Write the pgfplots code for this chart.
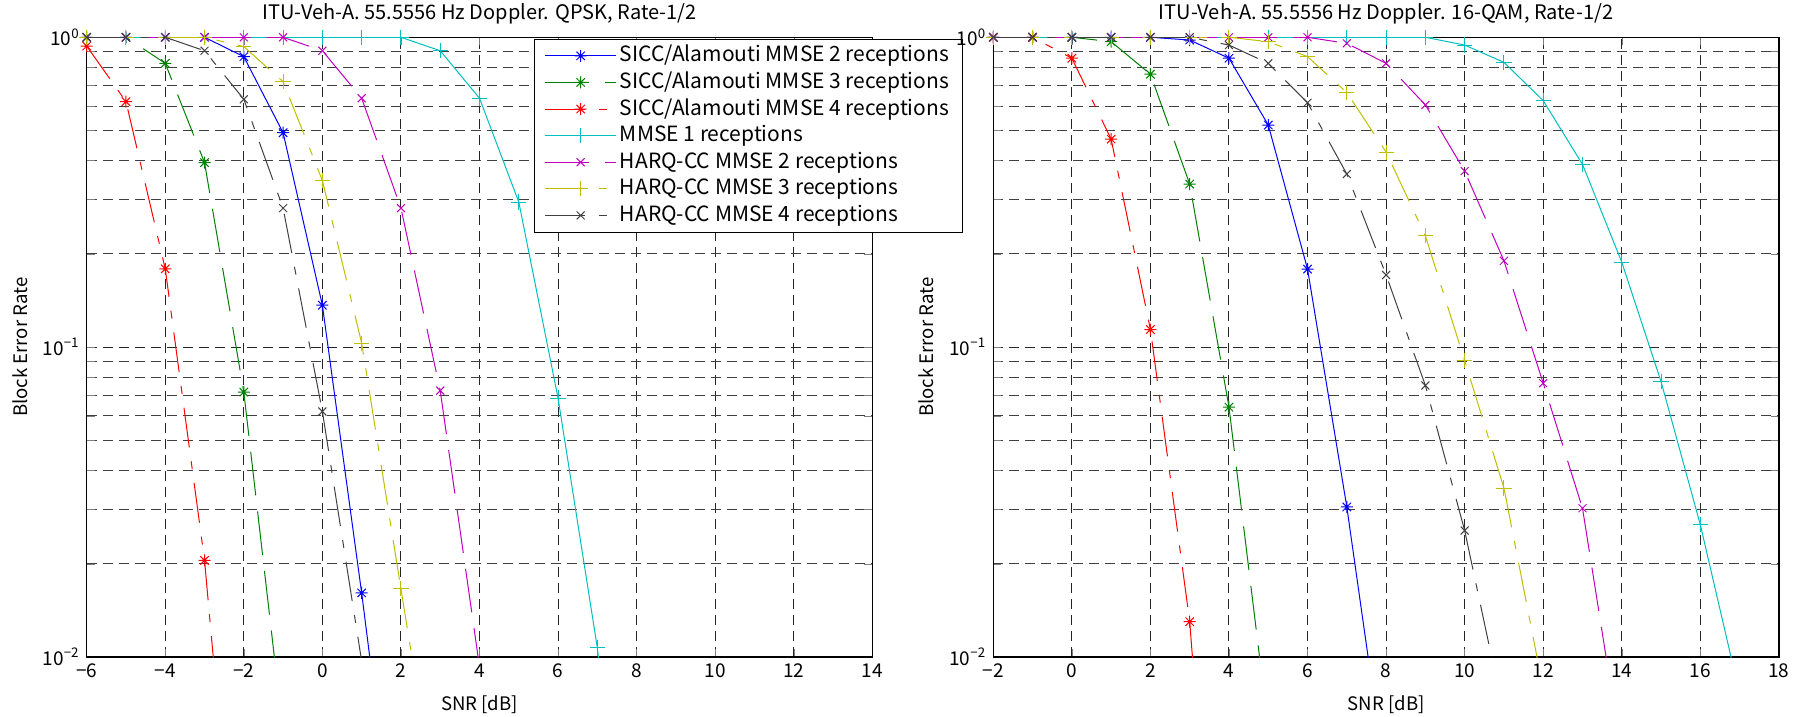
\documentclass[border=0pt]{standalone}
\usepackage{pgfplots}
\pgfplotsset{compat=1.18}
\usepackage{fontspec}
\setmainfont{Noto Sans CJK JP}
\definecolor{mblue}{rgb}{0,0,1}
\definecolor{mgreen}{rgb}{0,0.5,0}
\definecolor{mred}{rgb}{1,0,0}
\definecolor{mcyan}{rgb}{0,0.75,0.75}
\definecolor{mmag}{rgb}{0.75,0,0.75}
\definecolor{myel}{rgb}{0.75,0.75,0}
\definecolor{mgray}{rgb}{0.25,0.25,0.25}
\pgfdeclareplotmark{mstar}{%
  \pgfpathmoveto{\pgfqpoint{-\pgfplotmarksize}{0pt}}\pgfpathlineto{\pgfqpoint{\pgfplotmarksize}{0pt}}%
  \pgfpathmoveto{\pgfqpoint{0pt}{-\pgfplotmarksize}}\pgfpathlineto{\pgfqpoint{0pt}{\pgfplotmarksize}}%
  \pgfpathmoveto{\pgfqpoint{-0.7\pgfplotmarksize}{-0.7\pgfplotmarksize}}\pgfpathlineto{\pgfqpoint{0.7\pgfplotmarksize}{0.7\pgfplotmarksize}}%
  \pgfpathmoveto{\pgfqpoint{-0.7\pgfplotmarksize}{0.7\pgfplotmarksize}}\pgfpathlineto{\pgfqpoint{0.7\pgfplotmarksize}{-0.7\pgfplotmarksize}}%
  \pgfusepathqstroke}
\tikzset{
  mdash/.style={dash pattern=on 22pt off 8pt},
  mdashdot/.style={dash pattern=on 20pt off 7pt on 4pt off 7pt},
  sA/.style={mblue, solid, mark=mstar, mark size=3pt, mark options={solid}},
  sB/.style={mgreen, mdash, mark=mstar, mark size=3pt, mark options={solid}},
  sC/.style={mred, mdashdot, mark=mstar, mark size=3pt, mark options={solid}},
  sD/.style={mcyan, solid, mark=+, mark size=3.8pt, mark options={solid}},
  sE/.style={mmag, mdash, mark=x, mark size=2.8pt, mark options={solid}},
  sF/.style={myel, mdashdot, mark=+, mark size=3.8pt, mark options={solid}},
  sG/.style={mgray, mdashdot, mark=x, mark size=2.8pt, mark options={solid}},
}
\pgfplotsset{
  legend image code/.code={\draw[mark repeat=2,mark phase=2,#1] plot coordinates {(0pt,0pt) (17.75pt,0pt) (35.5pt,0pt)};},
  scale only axis, width=392.8pt, height=309.85pt,
  grid=both,
  major grid style={black!85, line width=0.5pt, dash pattern=on 5pt off 3pt},
  minor grid style={black!75, line width=0.5pt, dash pattern=on 5pt off 3pt},
  tick align=inside, major tick length=4pt, minor tick length=4pt,
  axis line style={line width=0.75pt},
  tick label style={font=\fontsize{9.5}{10}\selectfont},
  every axis label/.append style={font=\fontsize{9.3}{10}\selectfont},
  title style={font=\fontsize{10}{11}\selectfont, at={(axis description cs:0.5,1)}, anchor=center, yshift=5.6pt},
  xlabel={SNR [dB]}, ylabel={Block Error Rate},
  xlabel style={at={(axis description cs:0.5,0)}, anchor=center, yshift=-24pt},
  ylabel style={at={(axis description cs:-0.085,0.5)}, anchor=center},
  every axis plot/.append style={line width=0.5pt},
  clip mode=individual,
}
\newcommand{\yopts}{}
\begin{document}
\begin{tikzpicture}
\useasboundingbox (-43.35pt,-30pt) rectangle (856.65pt,328.5pt);
\begin{axis}[at={(0pt,0pt)}, anchor=south west,
  ymode=log, ymin=0.01, ymax=1,
  ytick={0.01,0.1,1},
  yticklabels={10\textsuperscript{−2},10\textsuperscript{−1},10\textsuperscript{0}},
  minor ytick={0.02,0.03,0.04,0.05,0.06,0.07,0.08,0.09,0.2,0.3,0.4,0.5,0.6,0.7,0.8,0.9},
  xmin=-6, xmax=14, xtick={-6,-4,...,14},
  xticklabels={−6,−4,−2,0,2,4,6,8,10,12,14},
  title={ITU-Veh-A. 55.5556 Hz Doppler. QPSK, Rate-1/2},
  legend style={at={(1.1154,0.998)}, anchor=north east, draw=black, line width=0.6pt,
    font=\fontsize{10.5}{11}\selectfont, inner xsep=5pt, inner ysep=1.7pt,
    nodes={text height=8pt, text depth=2pt, inner sep=1.65pt},
    cells={anchor=west}, fill=white}]
\addplot[sA] coordinates {(-6,1)(-5,1)(-4,1)(-3,1)(-2,0.866)(-1,0.492)(0,0.1366)(1,0.0161)};
\addlegendentry{SICC/Alamouti MMSE 2 receptions}
\addplot[sB] coordinates {(-6,1)(-5,1)(-4,0.824)(-3,0.394)(-2,0.0716)};
\addlegendentry{SICC/Alamouti MMSE 3 receptions}
\addplot[sC] coordinates {(-6,0.937)(-5,0.62)(-4,0.179)(-3,0.0205)};
\addlegendentry{SICC/Alamouti MMSE 4 receptions}
\addplot[sD] coordinates {(-6,1)(-5,1)(-4,1)(-3,1)(-2,1)(-1,1)(0,1)(1,1)(2,1)(3,0.905)(4,0.636)(5,0.294)(6,0.0685)(7,0.0107)};
\addlegendentry{MMSE 1 receptions}
\addplot[sE] coordinates {(-6,1)(-5,1)(-4,1)(-3,1)(-2,1)(-1,1)(0,0.905)(1,0.636)(2,0.281)(3,0.0724)};
\addlegendentry{HARQ-CC MMSE 2 receptions}
\addplot[sF] coordinates {(-6,1)(-5,1)(-4,1)(-3,1)(-2,0.933)(-1,0.719)(0,0.345)(1,0.103)(2,0.0166)};
\addlegendentry{HARQ-CC MMSE 3 receptions}
\addplot[sG] coordinates {(-6,1)(-5,1)(-4,1)(-3,0.905)(-2,0.631)(-1,0.281)(0,0.062)};
\addlegendentry{HARQ-CC MMSE 4 receptions}
\addplot[sA,no marks,forget plot] coordinates {(1,0.0161)(2,0.0016)};
\addplot[sB,no marks,forget plot] coordinates {(-2,0.0716)(-1,0.0057)};
\addplot[sC,no marks,forget plot] coordinates {(-3,0.0205)(-2,0.0008)};
\addplot[sD,no marks,forget plot] coordinates {(7,0.0107)(8,0.0007)};
\addplot[sE,no marks,forget plot] coordinates {(3,0.0724)(4,0.0093)};
\addplot[sF,no marks,forget plot] coordinates {(2,0.0166)(3,0.0027)};
\addplot[sG,no marks,forget plot] coordinates {(0,0.062)(1,0.0097)};
\end{axis}
\begin{axis}[at={(453.3pt,0pt)}, anchor=south west,
  ymode=log, ymin=0.01, ymax=1,
  ytick={0.01,0.1,1},
  yticklabels={10\textsuperscript{−2},10\textsuperscript{−1},10\textsuperscript{0}},
  minor ytick={0.02,0.03,0.04,0.05,0.06,0.07,0.08,0.09,0.2,0.3,0.4,0.5,0.6,0.7,0.8,0.9},
  xmin=-2, xmax=18, xtick={-2,0,...,18},
  xticklabels={−2,0,2,4,6,8,10,12,14,16,18},
  title={ITU-Veh-A. 55.5556 Hz Doppler. 16-QAM, Rate-1/2}]
\addplot[sA] coordinates {(-2,1)(-1,1)(0,1)(1,1)(2,1)(3,0.98)(4,0.856)(5,0.521)(6,0.1786)(7,0.0305)};
\addplot[sB] coordinates {(-2,1)(-1,1)(0,1)(1,0.968)(2,0.76)(3,0.336)(4,0.064)};
\addplot[sC] coordinates {(-2,1)(-1,1)(0,0.856)(1,0.469)(2,0.114)(3,0.0130)};
\addplot[sD] coordinates {(-2,1)(-1,1)(0,1)(1,1)(2,1)(3,1)(4,1)(5,1)(6,1)(7,1)(8,1)(9,1)(10,0.944)(11,0.83)(12,0.6245)(13,0.389)(14,0.188)(15,0.0774)(16,0.0267)};
\addplot[sE] coordinates {(-2,1)(-1,1)(0,1)(1,1)(2,1)(3,1)(4,1)(5,1)(6,1)(7,0.956)(8,0.824)(9,0.605)(10,0.370)(11,0.19)(12,0.0765)(13,0.0302)};
\addplot[sF] coordinates {(-2,1)(-1,1)(0,1)(1,1)(2,1)(3,1)(4,1)(5,0.968)(6,0.866)(7,0.663)(8,0.426)(9,0.2286)(10,0.0905)(11,0.0351)};
\addplot[sG] coordinates {(-2,1)(-1,1)(0,1)(1,1)(2,1)(3,1)(4,0.944)(5,0.824)(6,0.615)(7,0.362)(8,0.171)(9,0.0752)(10,0.0256)};
\addplot[sA,no marks,forget plot] coordinates {(7,0.0305)(8,0.0039)};
\addplot[sB,no marks,forget plot] coordinates {(4,0.064)(5,0.0059)};
\addplot[sC,no marks,forget plot] coordinates {(3,0.0130)(4,0.0003)};
\addplot[sD,no marks,forget plot] coordinates {(16,0.0267)(17,0.0076)};
\addplot[sE,no marks,forget plot] coordinates {(13,0.0302)(14,0.0048)};
\addplot[sF,no marks,forget plot] coordinates {(11,0.0351)(12,0.0079)};
\addplot[sG,no marks,forget plot] coordinates {(10,0.0256)(11,0.0065)};
\end{axis}
\end{tikzpicture}
\end{document}
